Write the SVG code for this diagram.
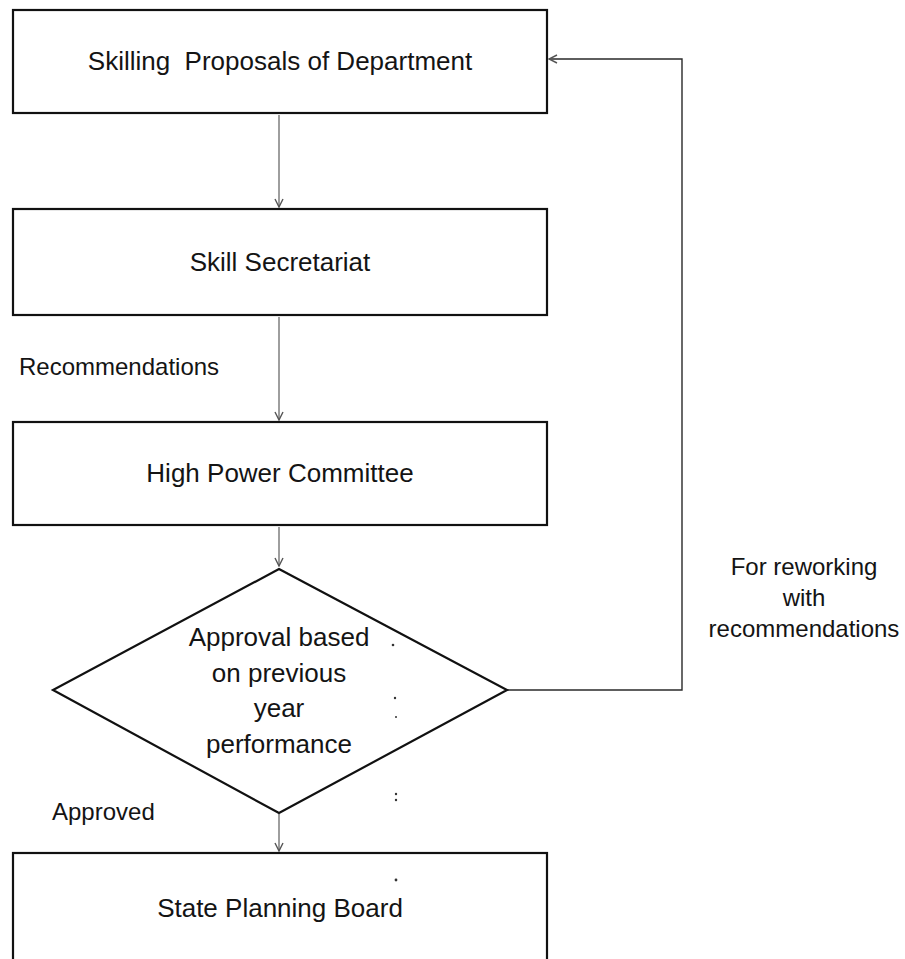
<svg xmlns="http://www.w3.org/2000/svg" width="905" height="959" viewBox="0 0 905 959">
<style>
  .box { fill: #ffffff; stroke: #111111; stroke-width: 2.2; }
  .t { font-family: "Liberation Sans", Arial, sans-serif; font-size: 26px; fill: #141414; text-anchor: middle; }
  .lbl { font-family: "Liberation Sans", Arial, sans-serif; font-size: 24px; fill: #141414; }
  .conn { fill: none; stroke: #6a6a6a; stroke-width: 1.3; }
  .back { fill: none; stroke: #2a2a2a; stroke-width: 1.4; }
  .dot { fill: #333333; }
</style>
<defs>
  <marker id="arr" viewBox="0 0 10 10" refX="9" refY="5" markerWidth="10" markerHeight="10" markerUnits="userSpaceOnUse" orient="auto">
    <path d="M1,1 L9,5 L1,9" fill="none" stroke="#555555" stroke-width="1.4"/>
  </marker>
</defs>
<rect width="905" height="959" fill="#ffffff"/>

<g id="connectors">
  <line class="conn" x1="279" y1="115" x2="279" y2="207" marker-end="url(#arr)"/>
  <line class="conn" x1="279" y1="317" x2="279" y2="420" marker-end="url(#arr)"/>
  <line class="conn" x1="279" y1="527" x2="279" y2="566" marker-end="url(#arr)"/>
  <line class="conn" x1="279" y1="814" x2="279" y2="851" marker-end="url(#arr)"/>
  <polyline class="back" points="507,690 682,690 682,59 549,59" marker-end="url(#arr)"/>
  <text class="lbl" x="19" y="375">Recommendations</text>
  <text class="lbl" x="52" y="820">Approved</text>
  <text class="lbl" x="804" y="575" text-anchor="middle">For reworking</text>
  <text class="lbl" x="804" y="606" text-anchor="middle">with</text>
  <text class="lbl" x="804" y="637" text-anchor="middle">recommendations</text>
</g>

<g id="node-proposals">
  <rect class="box" x="13" y="10" width="534" height="103"/>
  <text class="t" x="280" y="70" xml:space="preserve">Skilling  Proposals of Department</text>
</g>

<g id="node-secretariat">
  <rect class="box" x="13" y="209" width="534" height="106"/>
  <text class="t" x="280" y="271">Skill Secretariat</text>
</g>

<g id="node-hpc">
  <rect class="box" x="13" y="422" width="534" height="103"/>
  <text class="t" x="280" y="482">High Power Committee</text>
</g>

<g id="node-approval">
  <polygon class="box" points="279,569 507,690 279,813 53,690"/>
  <text class="t" x="279" y="646">Approval based</text>
  <text class="t" x="279" y="682">on previous</text>
  <text class="t" x="279" y="717">year</text>
  <text class="t" x="279" y="753">performance</text>
</g>

<g id="node-spb">
  <rect class="box" x="13" y="853" width="534" height="112"/>
  <text class="t" x="280" y="917">State Planning Board</text>
</g>

<g id="specks">
  <circle class="dot" cx="393" cy="645" r="1.3"/>
  <circle class="dot" cx="395" cy="698" r="1.2"/>
  <circle class="dot" cx="396" cy="717" r="1"/>
  <circle class="dot" cx="396" cy="794" r="1.2"/>
  <circle class="dot" cx="396" cy="800" r="1.2"/>
  <circle class="dot" cx="396" cy="880" r="1.4"/>
</g>
</svg>
